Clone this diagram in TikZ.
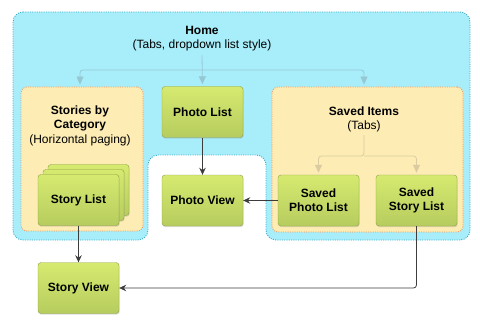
\documentclass[tikz,border=0pt]{standalone}
\usepackage{fontspec}
\setmainfont{Liberation Sans}
\usepackage{tikz}
\usetikzlibrary{arrows.meta,shadows}

\definecolor{homeblue}{RGB}{168,238,250}
\definecolor{homeedge}{RGB}{60,170,200}
\definecolor{groupyellow}{RGB}{253,236,180}
\definecolor{groupedge}{RGB}{232,150,95}
\definecolor{greentop}{RGB}{214,234,112}
\definecolor{greenbot}{RGB}{182,204,94}
\definecolor{greenedge}{RGB}{140,160,72}
\definecolor{linkdark}{RGB}{60,60,60}
\definecolor{linkblue}{RGB}{150,200,212}
\definecolor{linktan}{RGB}{218,204,160}

\begin{document}
\begin{tikzpicture}[x=1pt,y=-1pt,
  font=\fontsize{12}{14}\selectfont,
  screen/.style={draw=greenedge,top color=greentop,bottom color=greenbot,
    rounded corners=3pt,minimum width=81pt,minimum height=51pt,align=center,
    font=\fontsize{12}{14}\selectfont\bfseries,
    drop shadow={opacity=0.25,shadow xshift=0.7pt,shadow yshift=-1.2pt}},
  group/.style={draw=groupedge,fill=groupyellow,line width=0.8pt,
    dash pattern=on 1pt off 1.3pt,rounded corners=6pt},
  link/.style={draw=linkdark,line width=0.8pt,-{Stealth[length=7pt,width=6.5pt]}},
  homelink/.style={draw=linkblue,line width=0.8pt,rounded corners=3pt,
    -{Triangle[length=8pt,width=7pt]},shorten >=2pt},
  savedlink/.style={draw=linktan,line width=0.8pt,rounded corners=3pt,
    -{Triangle[length=8pt,width=7pt]},shorten >=2pt}]
\useasboundingbox (0,0) rectangle (480,329);

% home area, cut open round the photo view
\filldraw[fill=homeblue,draw=homeedge,line width=0.9pt,dash pattern=on 1pt off 1.3pt,
  rounded corners=10pt]
  (13,12) -- (470,12) -- (470,240) -- (266,240) -- (266,155) -- (148,155)
  -- (148,240) -- (13,240) -- cycle;
\node[align=center] (home) at (202,39) {\textbf{Home}\\(Tabs, dropdown list style)};

\node[group,minimum width=122pt,minimum height=144pt] (storiesbox) at (82,159) {};
\node[align=center,font=\fontsize{12}{14.5}\selectfont] (storiestitle) at (80,125.5)
  {\textbf{Stories by}\\\textbf{Category}\\(Horizontal paging)};
\node[group,minimum width=191pt,minimum height=145pt] (savedbox) at (367.5,159.5) {};
\node[align=center] (savedtitle) at (364,119) {\textbf{Saved Items}\\(Tabs)};

\node[screen] (photolist) at (202.5,112) {Photo List};
\node[screen] (photoview) at (202.5,200.5) {Photo View};
\node[screen] (savedphoto) at (318.5,200.5) {Saved\\Photo List};
\node[screen] (savedstory) at (416.5,200.5) {Saved\\Story List};
\node[screen] (storyback2) at (88.5,190) {};
\node[screen] (storyback1) at (83.5,195) {};
\node[screen] (storylist) at (78.5,200) {Story List};
\node[screen] (storyview) at (78.5,288) {Story View};

\coordinate (homesplit) at (202,70);
\coordinate (savedsplit) at (364,156);
\draw[homelink] (home.south) -- (photolist.north);
\draw[homelink] (homesplit) -| (storiesbox.north -| storiestitle);
\draw[homelink] (homesplit) -| (savedbox.north -| savedtitle);
\draw[savedlink] (savedtitle.south) -- (savedsplit) -| (savedphoto.north);
\draw[savedlink] (savedsplit) -| (savedstory.north);

\draw[link] (storylist) -- (storyview);
\draw[link] (photolist) -- (photoview);
\draw[link] (savedphoto) -- (photoview);
\draw[link,rounded corners=3pt] (savedstory.south) |- (storyview.east);
\end{tikzpicture}
\end{document}
